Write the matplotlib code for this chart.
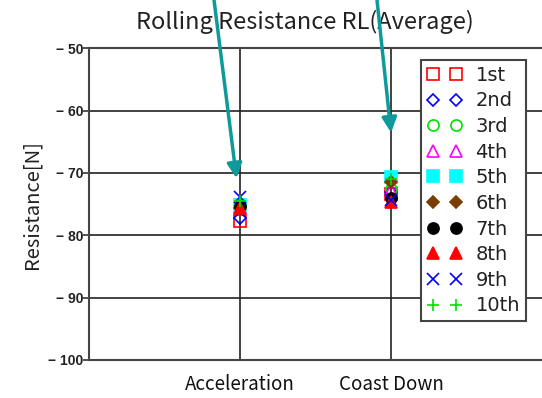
import matplotlib.pyplot as plt
from matplotlib.patches import FancyArrowPatch
from matplotlib.ticker import FixedLocator, FuncFormatter

plt.rcParams['font.family'] = ['Noto Sans CJK JP', 'DejaVu Sans']

categories = ["Acceleration", "Coast Down"]
runs = ["1st", "2nd", "3rd", "4th", "5th", "6th", "7th", "8th", "9th", "10th"]
# resistance per run: [Acceleration, Coast Down]
values = {
    "1st":  [-77.7, -73.4],
    "2nd":  [-77.2, -73.0],
    "3rd":  [-75.0, -72.6],
    "4th":  [-75.4, -72.8],
    "5th":  [-75.1, -70.7],
    "6th":  [-75.6, -71.5],
    "7th":  [-75.3, -74.1],
    "8th":  [-75.6, -74.6],
    "9th":  [-73.9, -74.4],
    "10th": [-74.5, -70.9],
}

styles = {
    "1st":  dict(marker="s", mfc="none", mec="#ff0000"),
    "2nd":  dict(marker="D", mfc="none", mec="#0000ff", ms=6.5),
    "3rd":  dict(marker="o", mfc="none", mec="#00e000"),
    "4th":  dict(marker="^", mfc="none", mec="#ff00ff"),
    "5th":  dict(marker="s", mfc="#00ffff", mec="#00ffff"),
    "6th":  dict(marker="D", mfc="#7a3d00", mec="#7a3d00", ms=6.5),
    "7th":  dict(marker="o", mfc="#000000", mec="#000000"),
    "8th":  dict(marker="^", mfc="#ff0000", mec="#ff0000"),
    "9th":  dict(marker="x", mfc="none", mec="#0000ff"),
    "10th": dict(marker="+", mfc="none", mec="#00e000"),
}

fig = plt.figure(figsize=(5.42, 3.98), dpi=100)
ax = fig.add_axes([0.164, 0.0955, 0.836, 0.7835])

xpos = [1, 2]
for r in runs:
    st = dict(ms=8, mew=1.2)
    st.update(styles[r])
    ax.plot(xpos, values[r], linestyle="none", label=r, zorder=3, **st)

ax.set_xlim(0, 3)
ax.set_ylim(-100, -50)
ax.set_xticks(xpos)
ax.set_xticklabels(categories, fontsize=13.5, color="#111111")
ax.tick_params(axis="x", length=0, pad=10)
ax.yaxis.set_major_locator(FixedLocator([-100, -90, -80, -70, -60, -50]))
ax.yaxis.set_major_formatter(FuncFormatter(lambda v, p: "\u2212 %d" % abs(v)))
ax.tick_params(axis="y", length=4, width=1.2, labelsize=10, pad=0, color="#333333")
for lab in ax.get_yticklabels():
    lab.set_family("Liberation Sans")
    lab.set_fontweight("bold")
    lab.set_color("#222222")

ax.grid(True, color="#222222", linewidth=1.2)
ax.set_axisbelow(True)
ax.spines["right"].set_visible(False)
for s in ["left", "bottom", "top"]:
    ax.spines[s].set_color("#444444")
    ax.spines[s].set_linewidth(1.5)

ax.set_ylabel("Resistance[N]", fontsize=14.5, labelpad=4, color="#222222")
fig.text(0.563, 0.945, "Rolling Resistance RL(Average)", ha="center",
         va="center", fontsize=17, color="#222222")

leg = ax.legend(loc="upper left", bbox_to_anchor=(0.733, 0.962), numpoints=2,
                frameon=True, fancybox=False, edgecolor="#444444",
                borderpad=0.3, labelspacing=0.34, handlelength=1.8,
                handletextpad=0.7, borderaxespad=0, framealpha=1,
                prop={"family": "DejaVu Sans", "size": 14})
leg.get_frame().set_linewidth(1.5)
for t in leg.get_texts():
    t.set_color("#222222")

# teal callout arrows
for x0, x1, y1 in [(0.393, 0.437, 0.545), (0.694, 0.722, 0.66)]:
    fig.add_artist(FancyArrowPatch(
        (x0, 1.02), (x1, y1), transform=fig.transFigure, arrowstyle="-|>",
        mutation_scale=22, color="#0e9a9a", linewidth=2.5, zorder=5))

fig.savefig("out.png", dpi=100)
